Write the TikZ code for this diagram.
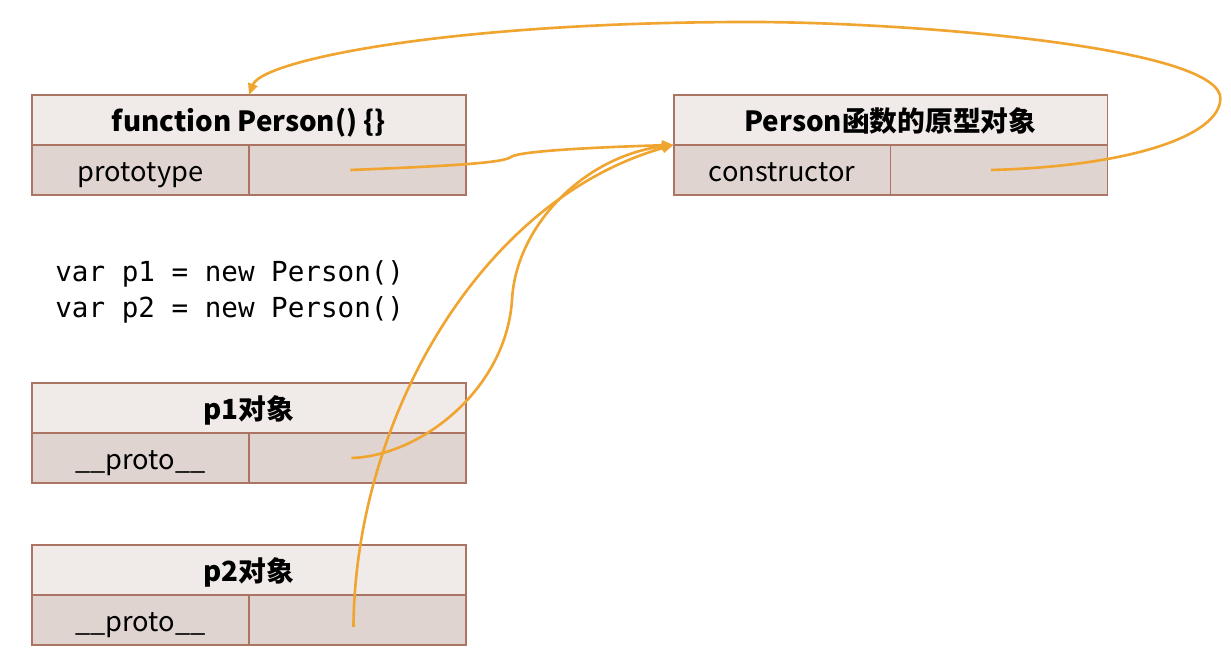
\documentclass[tikz,border=0pt]{standalone}
\usepackage{fontspec}
\setmainfont{Noto Sans CJK SC}
\setmonofont{DejaVu Sans Mono}
\usepackage{tikz}
\usetikzlibrary{arrows.meta,calc}
\definecolor{cellborder}{RGB}{172,116,98}
\definecolor{headfill}{RGB}{240,234,232}
\definecolor{rowfill}{RGB}{224,212,208}
\definecolor{linkorange}{RGB}{240,165,48}

\begin{document}
\begin{tikzpicture}[x=0.02cm, y=-0.02cm,
  headcell/.style={draw=cellborder, fill=headfill, line width=1.1pt, minimum width=8.68cm, minimum height=1cm, inner sep=0pt, outer sep=0pt, text height=17.6pt, text depth=4pt, font=\fontsize{15.8}{18}\selectfont\bfseries},
  rowcell/.style={draw=cellborder, fill=rowfill, line width=1.1pt, minimum width=4.34cm, minimum height=1cm, inner sep=0pt, outer sep=0pt, text height=16.6pt, text depth=4pt, anchor=north west, font=\fontsize{15.5}{18}\selectfont},
  link/.style={-{Triangle[length=6.5pt,width=5.5pt]}, line width=1.5pt, linkorange}
]
  \useasboundingbox (0,0) rectangle (1231,668);
  \node[headcell] (fnHead) at (249,120) {function Person() \{\}};
  \node[rowcell] (fnKey) at (fnHead.south west) {prototype};
  \node[rowcell] (fnVal) at (fnKey.north east) {};
  \node[headcell] (protoHead) at (890.5,120) {Person函数的原型对象};
  \node[rowcell] (protoKey) at (protoHead.south west) {constructor};
  \node[rowcell] (protoVal) at (protoKey.north east) {};
  \node[headcell] (poneHead) at (249,408) {p1对象};
  \node[rowcell] (poneKey) at (poneHead.south west) {\_\_proto\_\_};
  \node[rowcell] (poneVal) at (poneKey.north east) {};
  \node[headcell] (ptwoHead) at (249,570) {p2对象};
  \node[rowcell] (ptwoKey) at (ptwoHead.south west) {\_\_proto\_\_};
  \node[rowcell] (ptwoVal) at (ptwoKey.north east) {};
  \node[anchor=west, align=left, inner sep=0pt, font=\ttfamily\fontsize{15.7}{20.5}\selectfont] (code) at (55,292) {var p1 = new Person()\\var p2 = new Person()};
  \draw[link] ($(fnVal.center)+(-7,0)$) .. controls (450,166) and (503,163) .. (511,157)
    .. controls (518,151) and (600,147) .. (protoHead.south west);
  \draw[link] ($(poneVal.center)+(-6,0)$) .. controls (420,456) and (506,390) .. (512,300)
    .. controls (516,225) and (585,156) .. (protoHead.south west);
  \draw[link] ($(ptwoVal.center)+(-4,7)$) .. controls (355,420) and (480,200) .. (protoHead.south west);
  \draw[link] ($(protoVal.center)+(-8,0)$) .. controls (1140,166) and (1226,132) .. (1220,95)
    .. controls (1205,45) and (900,22) .. (750,22)
    .. controls (450,22) and (262,60) .. (fnHead.north);
\end{tikzpicture}
\end{document}
